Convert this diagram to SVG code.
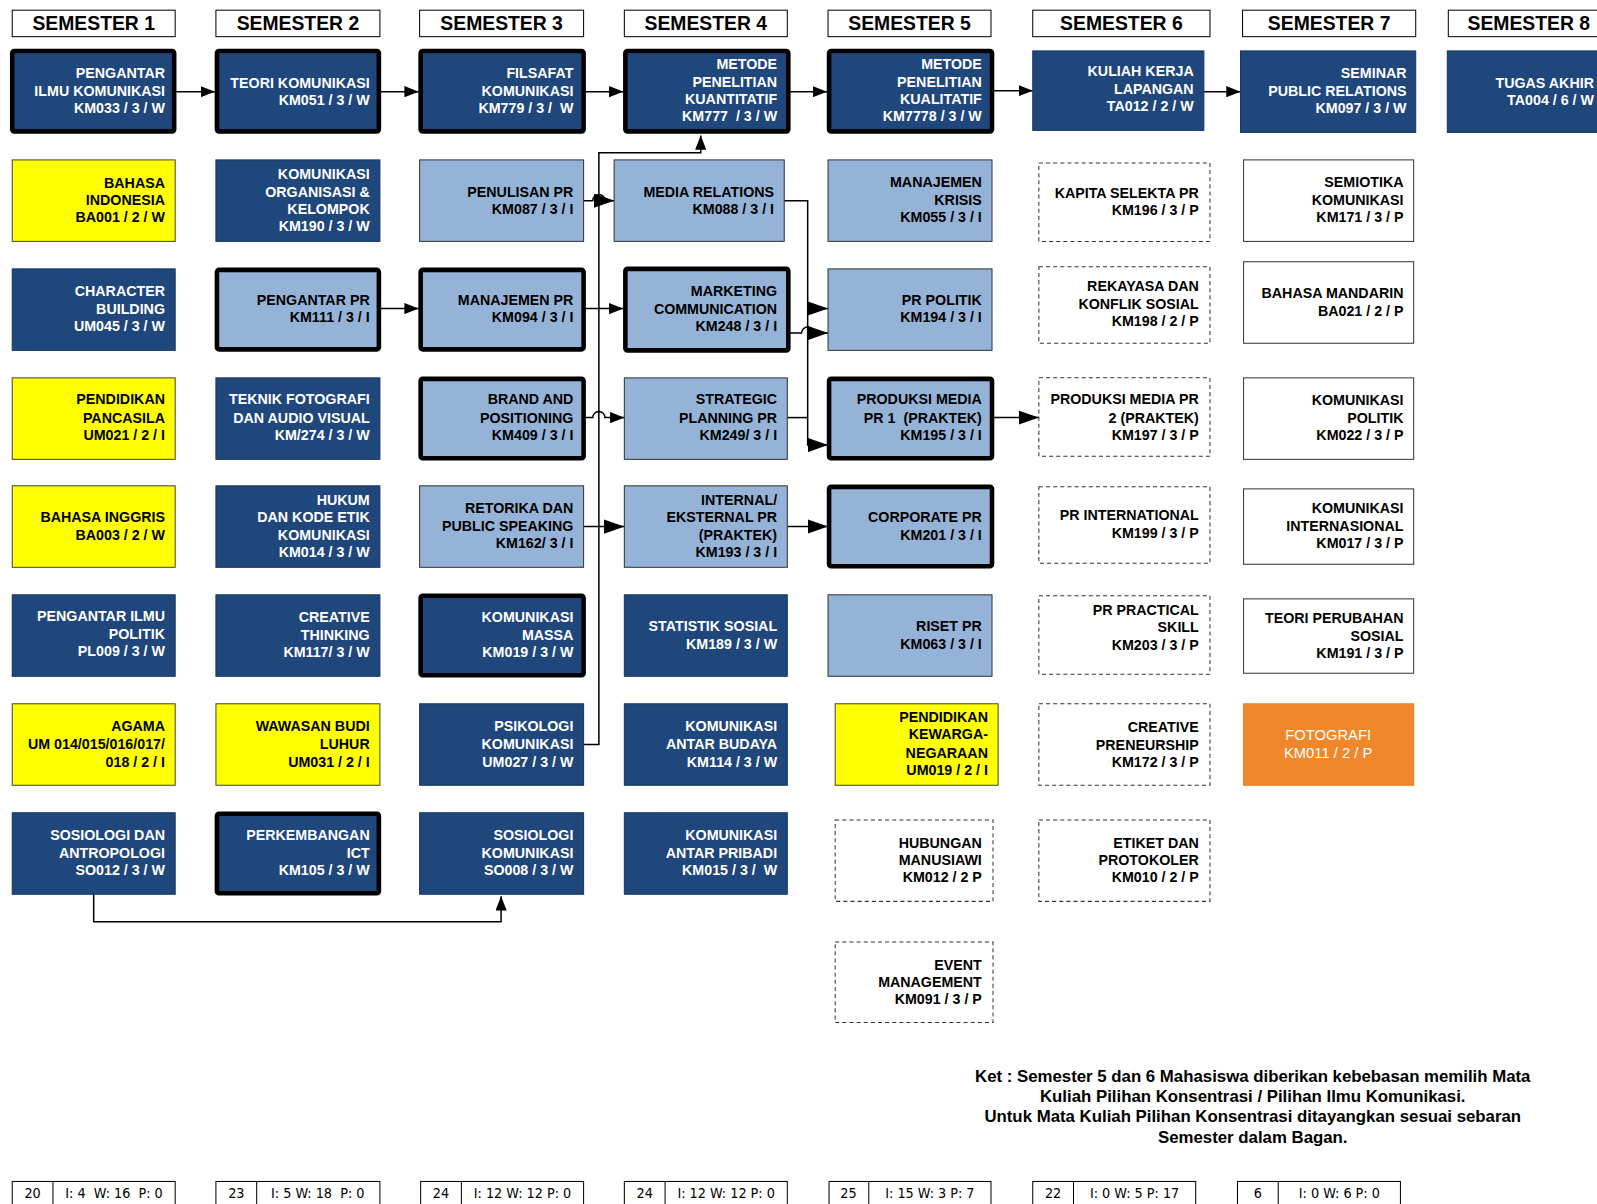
<svg xmlns="http://www.w3.org/2000/svg" width="1597" height="1204" viewBox="0 0 1597 1204">
<style>
text{font-family:"Liberation Sans",Arial,sans-serif;font-weight:bold;font-size:14px;text-anchor:end;fill:#000}
.hdr rect{fill:#fff;stroke:#000;stroke-width:1}
.hdr text{font-size:19px;text-anchor:middle}
.dk rect{fill:#1F477C;stroke:#16365E;stroke-width:1}
.dk text{fill:#fff}
.lt rect{fill:#95B3D7;stroke:#333;stroke-width:1}
.yl rect{fill:#FFFF00;stroke:#444;stroke-width:1}
.wh rect{fill:#fff;stroke:#333;stroke-width:1}
.ds rect{fill:#fff;stroke:#333;stroke-width:1;stroke-dasharray:4 3}
.or rect{fill:#F0882B;stroke:#E98025;stroke-width:1}
.or text{font-weight:normal;font-size:14.5px;text-anchor:middle;fill:#fff}
.thk rect{stroke:#000;stroke-width:4.5}
.cn path{fill:none;stroke:#000;stroke-width:1.5}
.sum rect,.sum line{fill:#fff;stroke:#000;stroke-width:1}
.sum text{font-family:"Liberation Sans Narrow","DejaVu Sans Condensed","Liberation Sans",sans-serif;font-weight:normal;font-size:14px;text-anchor:middle}
.note text{font-size:16.5px;text-anchor:middle}
</style>
<defs>
<marker id="a" markerUnits="userSpaceOnUse" markerWidth="14" markerHeight="11" refX="14" refY="5.5" orient="auto"><path d="M0,0 L14,5.5 L0,11 z" fill="#000"/></marker>
<marker id="b" markerUnits="userSpaceOnUse" markerWidth="20" markerHeight="14" refX="20" refY="7" orient="auto"><path d="M0,0 L20,7 L0,14 z" fill="#000"/></marker>
</defs>
<g transform="scale(1.0185)">
<g id="headers" class="hdr">
<g id="h1"><rect x="12" y="10" width="160" height="26"/><text x="92" y="29.5">SEMESTER 1</text></g>
<g id="h2"><rect x="212" y="10" width="161" height="26"/><text x="292.5" y="29.5">SEMESTER 2</text></g>
<g id="h3"><rect x="412" y="10" width="161" height="26"/><text x="492.5" y="29.5">SEMESTER 3</text></g>
<g id="h4"><rect x="613" y="10" width="160" height="26"/><text x="693" y="29.5">SEMESTER 4</text></g>
<g id="h5"><rect x="813" y="10" width="160" height="26"/><text x="893" y="29.5">SEMESTER 5</text></g>
<g id="h6"><rect x="1014" y="10" width="174" height="26"/><text x="1101" y="29.5">SEMESTER 6</text></g>
<g id="h7"><rect x="1220" y="10" width="170" height="26"/><text x="1305" y="29.5">SEMESTER 7</text></g>
<g id="h8"><rect x="1422" y="10" width="180" height="26"/><text x="1501" y="29.5">SEMESTER 8</text></g>
</g>

<g id="connectors" class="cn">
<path d="M173,90 H211" marker-end="url(#a)"/>
<path d="M374,90 H411" marker-end="url(#a)"/>
<path d="M575,90 H612" marker-end="url(#a)"/>
<path d="M776,90 H812" marker-end="url(#a)"/>
<path d="M976,89 H1014" marker-end="url(#a)"/>
<path d="M1182,90 H1218" marker-end="url(#a)"/>
<path d="M573,731 H588 V150 H688 V133" marker-end="url(#a)"/>
<path d="M573,197 H582 A6,6 0 0 1 594,197 H603" marker-end="url(#b)"/>
<path d="M374,303 H411" marker-end="url(#a)"/>
<path d="M575,303 H612" marker-end="url(#a)"/>
<path d="M575,410 H582 A6,6 0 0 1 594,410 H613" marker-end="url(#a)"/>
<path d="M573,517 H613" marker-end="url(#b)"/>
<path d="M773,517 H813" marker-end="url(#b)"/>
<path d="M770,197 H793 V437 H813" marker-end="url(#b)"/>
<path d="M793,303 H813" marker-end="url(#b)"/>
<path d="M775,327 H787 A6,6 0 0 1 799,327 H813" marker-end="url(#b)"/>
<path d="M773,410 H793"/>
<path d="M976,410 H1020" marker-end="url(#b)"/>
<path d="M92,878 V905 H492 V880" marker-end="url(#a)"/>
</g>

<!-- Semester 1 -->
<g id="km033" class="dk thk"><rect x="12" y="50" width="159" height="79" rx="2"/><text><tspan x="162" y="77">PENGANTAR</tspan><tspan x="162" y="94">ILMU KOMUNIKASI</tspan><tspan x="162" y="111">KM033 / 3 / W</tspan></text></g>
<g id="ba001" class="yl"><rect x="12" y="157" width="160" height="80"/><text><tspan x="162" y="185">BAHASA</tspan><tspan x="162" y="201">INDONESIA</tspan><tspan x="162" y="218">BA001 / 2 / W</tspan></text></g>
<g id="um045" class="dk"><rect x="12" y="264" width="160" height="80"/><text><tspan x="162" y="291">CHARACTER</tspan><tspan x="162" y="308">BUILDING</tspan><tspan x="162" y="325">UM045 / 3 / W</tspan></text></g>
<g id="um021" class="yl"><rect x="12" y="371" width="160" height="80"/><text><tspan x="162" y="397">PENDIDIKAN</tspan><tspan x="162" y="415">PANCASILA</tspan><tspan x="162" y="432">UM021 / 2 / I</tspan></text></g>
<g id="ba003" class="yl"><rect x="12" y="477" width="160" height="80"/><text><tspan x="162" y="513">BAHASA INGGRIS</tspan><tspan x="162" y="530">BA003 / 2 / W</tspan></text></g>
<g id="pl009" class="dk"><rect x="12" y="584" width="160" height="80"/><text><tspan x="162" y="610">PENGANTAR ILMU</tspan><tspan x="162" y="627">POLITIK</tspan><tspan x="162" y="644">PL009 / 3 / W</tspan></text></g>
<g id="um014" class="yl"><rect x="12" y="691" width="160" height="80"/><text><tspan x="162" y="718">AGAMA</tspan><tspan x="162" y="735">UM 014/015/016/017/</tspan><tspan x="162" y="753">018 / 2 / I</tspan></text></g>
<g id="so012" class="dk"><rect x="12" y="798" width="160" height="80"/><text><tspan x="162" y="825">SOSIOLOGI DAN</tspan><tspan x="162" y="842">ANTROPOLOGI</tspan><tspan x="162" y="859">SO012 / 3 / W</tspan></text></g>

<!-- Semester 2 -->
<g id="km051" class="dk thk"><rect x="213" y="50" width="159" height="79" rx="2"/><text><tspan x="363" y="86">TEORI KOMUNIKASI</tspan><tspan x="363" y="103">KM051 / 3 / W</tspan></text></g>
<g id="km190" class="dk"><rect x="212" y="157" width="161" height="80"/><text><tspan x="363" y="176">KOMUNIKASI</tspan><tspan x="363" y="193">ORGANISASI &amp;</tspan><tspan x="363" y="210">KELOMPOK</tspan><tspan x="363" y="227">KM190 / 3 / W</tspan></text></g>
<g id="km111" class="lt thk"><rect x="213" y="265" width="159" height="78" rx="2"/><text><tspan x="363" y="299">PENGANTAR PR</tspan><tspan x="363" y="316">KM111 / 3 / I</tspan></text></g>
<g id="km274" class="dk"><rect x="212" y="371" width="161" height="80"/><text><tspan x="363" y="397">TEKNIK FOTOGRAFI</tspan><tspan x="363" y="415">DAN AUDIO VISUAL</tspan><tspan x="363" y="432">KM/274 / 3 / W</tspan></text></g>
<g id="km014" class="dk"><rect x="212" y="477" width="161" height="80"/><text><tspan x="363" y="496">HUKUM</tspan><tspan x="363" y="513">DAN KODE ETIK</tspan><tspan x="363" y="530">KOMUNIKASI</tspan><tspan x="363" y="547">KM014 / 3 / W</tspan></text></g>
<g id="km117" class="dk"><rect x="212" y="584" width="161" height="80"/><text><tspan x="363" y="611">CREATIVE</tspan><tspan x="363" y="628">THINKING</tspan><tspan x="363" y="645">KM117/ 3 / W</tspan></text></g>
<g id="um031" class="yl"><rect x="212" y="691" width="161" height="80"/><text><tspan x="363" y="718">WAWASAN BUDI</tspan><tspan x="363" y="735">LUHUR</tspan><tspan x="363" y="753">UM031 / 2 / I</tspan></text></g>
<g id="km105" class="dk thk"><rect x="213" y="799" width="159" height="78" rx="2"/><text><tspan x="363" y="825">PERKEMBANGAN</tspan><tspan x="363" y="842">ICT</tspan><tspan x="363" y="859">KM105 / 3 / W</tspan></text></g>

<!-- Semester 3 -->
<g id="km779" class="dk thk"><rect x="413" y="50" width="160" height="79" rx="2"/><text><tspan x="563" y="77">FILSAFAT</tspan><tspan x="563" y="94">KOMUNIKASI</tspan><tspan x="563" y="111">KM779 / 3 /&#160; W</tspan></text></g>
<g id="km087" class="lt"><rect x="412" y="157" width="161" height="80"/><text><tspan x="563" y="193">PENULISAN PR</tspan><tspan x="563" y="210">KM087 / 3 / I</tspan></text></g>
<g id="km094" class="lt thk"><rect x="413" y="265" width="160" height="78" rx="2"/><text><tspan x="563" y="299">MANAJEMEN PR</tspan><tspan x="563" y="316">KM094 / 3 / I</tspan></text></g>
<g id="km409" class="lt thk"><rect x="413" y="372" width="160" height="78" rx="2"/><text><tspan x="563" y="397">BRAND AND</tspan><tspan x="563" y="415">POSITIONING</tspan><tspan x="563" y="432">KM409 / 3 / I</tspan></text></g>
<g id="km162" class="lt"><rect x="412" y="477" width="161" height="80"/><text><tspan x="563" y="504">RETORIKA DAN</tspan><tspan x="563" y="521">PUBLIC SPEAKING</tspan><tspan x="563" y="538">KM162/ 3 / I</tspan></text></g>
<g id="km019" class="dk thk"><rect x="413" y="585" width="160" height="78" rx="2"/><text><tspan x="563" y="611">KOMUNIKASI</tspan><tspan x="563" y="628">MASSA</tspan><tspan x="563" y="645">KM019 / 3 / W</tspan></text></g>
<g id="um027" class="dk"><rect x="412" y="691" width="161" height="80"/><text><tspan x="563" y="718">PSIKOLOGI</tspan><tspan x="563" y="735">KOMUNIKASI</tspan><tspan x="563" y="753">UM027 / 3 / W</tspan></text></g>
<g id="so008" class="dk"><rect x="412" y="798" width="161" height="80"/><text><tspan x="563" y="825">SOSIOLOGI</tspan><tspan x="563" y="842">KOMUNIKASI</tspan><tspan x="563" y="859">SO008 / 3 / W</tspan></text></g>

<!-- Semester 4 -->
<g id="km777" class="dk thk"><rect x="614" y="50" width="160" height="79" rx="2"/><text><tspan x="763" y="68">METODE</tspan><tspan x="763" y="85">PENELITIAN</tspan><tspan x="763" y="102">KUANTITATIF</tspan><tspan x="763" y="119">KM777&#160; / 3 / W</tspan></text></g>
<g id="km088" class="lt"><rect x="603" y="157" width="167" height="80"/><text><tspan x="760" y="193">MEDIA RELATIONS</tspan><tspan x="760" y="210">KM088 / 3 / I</tspan></text></g>
<g id="km248" class="lt thk"><rect x="614" y="264" width="160" height="80" rx="2"/><text><tspan x="763" y="291">MARKETING</tspan><tspan x="763" y="308">COMMUNICATION</tspan><tspan x="763" y="325">KM248 / 3 / I</tspan></text></g>
<g id="km249" class="lt"><rect x="613" y="371" width="160" height="80"/><text><tspan x="763" y="397">STRATEGIC</tspan><tspan x="763" y="415">PLANNING PR</tspan><tspan x="763" y="432">KM249/ 3 / I</tspan></text></g>
<g id="km193" class="lt"><rect x="613" y="477" width="160" height="80"/><text><tspan x="763" y="496">INTERNAL/</tspan><tspan x="763" y="513">EKSTERNAL PR</tspan><tspan x="763" y="530">(PRAKTEK)</tspan><tspan x="763" y="547">KM193 / 3 / I</tspan></text></g>
<g id="km189" class="dk"><rect x="613" y="584" width="160" height="80"/><text><tspan x="763" y="620">STATISTIK SOSIAL</tspan><tspan x="763" y="637">KM189 / 3 / W</tspan></text></g>
<g id="km114" class="dk"><rect x="613" y="691" width="160" height="80"/><text><tspan x="763" y="718">KOMUNIKASI</tspan><tspan x="763" y="735">ANTAR BUDAYA</tspan><tspan x="763" y="753">KM114 / 3 / W</tspan></text></g>
<g id="km015" class="dk"><rect x="613" y="798" width="160" height="80"/><text><tspan x="763" y="825">KOMUNIKASI</tspan><tspan x="763" y="842">ANTAR PRIBADI</tspan><tspan x="763" y="859">KM015 / 3 /&#160; W</tspan></text></g>

<!-- Semester 5 -->
<g id="km7778" class="dk thk"><rect x="814" y="50" width="160" height="79" rx="2"/><text><tspan x="964" y="68">METODE</tspan><tspan x="964" y="85">PENELITIAN</tspan><tspan x="964" y="102">KUALITATIF</tspan><tspan x="964" y="119">KM7778 / 3 / W</tspan></text></g>
<g id="km055" class="lt"><rect x="813" y="157" width="161" height="80"/><text><tspan x="964" y="184">MANAJEMEN</tspan><tspan x="964" y="201">KRISIS</tspan><tspan x="964" y="218">KM055 / 3 / I</tspan></text></g>
<g id="km194" class="lt"><rect x="813" y="264" width="161" height="80"/><text><tspan x="964" y="299">PR POLITIK</tspan><tspan x="964" y="316">KM194 / 3 / I</tspan></text></g>
<g id="km195" class="lt thk"><rect x="814" y="372" width="160" height="78" rx="2"/><text><tspan x="964" y="397">PRODUKSI MEDIA</tspan><tspan x="964" y="415">PR 1&#160; (PRAKTEK)</tspan><tspan x="964" y="432">KM195 / 3 / I</tspan></text></g>
<g id="km201" class="lt thk"><rect x="814" y="478" width="160" height="78" rx="2"/><text><tspan x="964" y="513">CORPORATE PR</tspan><tspan x="964" y="530">KM201 / 3 / I</tspan></text></g>
<g id="km063" class="lt"><rect x="813" y="584" width="161" height="80"/><text><tspan x="964" y="620">RISET PR</tspan><tspan x="964" y="637">KM063 / 3 / I</tspan></text></g>
<g id="um019" class="yl"><rect x="820" y="691" width="160" height="80"/><text><tspan x="970" y="709">PENDIDIKAN</tspan><tspan x="970" y="726">KEWARGA-</tspan><tspan x="970" y="744">NEGARAAN</tspan><tspan x="970" y="761">UM019 / 2 / I</tspan></text></g>
<g id="km012" class="ds"><rect x="820" y="805" width="155" height="80"/><text><tspan x="964" y="833">HUBUNGAN</tspan><tspan x="964" y="849">MANUSIAWI</tspan><tspan x="964" y="866">KM012 / 2 P</tspan></text></g>
<g id="km091" class="ds"><rect x="820" y="925" width="155" height="79"/><text><tspan x="964" y="952">EVENT</tspan><tspan x="964" y="969">MANAGEMENT</tspan><tspan x="964" y="986">KM091 / 3 / P</tspan></text></g>

<!-- Semester 6 -->
<g id="ta012" class="dk"><rect x="1014" y="50" width="168" height="78"/><text><tspan x="1172" y="75">KULIAH KERJA</tspan><tspan x="1172" y="92">LAPANGAN</tspan><tspan x="1172" y="109">TA012 / 2 / W</tspan></text></g>
<g id="km196" class="ds"><rect x="1020" y="160" width="168" height="77"/><text><tspan x="1177" y="194">KAPITA SELEKTA PR</tspan><tspan x="1177" y="211">KM196 / 3 / P</tspan></text></g>
<g id="km198" class="ds"><rect x="1020" y="262" width="168" height="75"/><text><tspan x="1177" y="286">REKAYASA DAN</tspan><tspan x="1177" y="303">KONFLIK SOSIAL</tspan><tspan x="1177" y="320">KM198 / 2 / P</tspan></text></g>
<g id="km197" class="ds"><rect x="1020" y="371" width="168" height="77"/><text><tspan x="1177" y="397">PRODUKSI MEDIA PR</tspan><tspan x="1177" y="415">2 (PRAKTEK)</tspan><tspan x="1177" y="432">KM197 / 3 / P</tspan></text></g>
<g id="km199" class="ds"><rect x="1020" y="478" width="168" height="75"/><text><tspan x="1177" y="511">PR INTERNATIONAL</tspan><tspan x="1177" y="528">KM199 / 3 / P</tspan></text></g>
<g id="km203" class="ds"><rect x="1020" y="585" width="168" height="77"/><text><tspan x="1177" y="604">PR PRACTICAL</tspan><tspan x="1177" y="621">SKILL</tspan><tspan x="1177" y="638">KM203 / 3 / P</tspan></text></g>
<g id="km172" class="ds"><rect x="1020" y="691" width="168" height="80"/><text><tspan x="1177" y="719">CREATIVE</tspan><tspan x="1177" y="736">PRENEURSHIP</tspan><tspan x="1177" y="753">KM172 / 3 / P</tspan></text></g>
<g id="km010" class="ds"><rect x="1020" y="805" width="168" height="80"/><text><tspan x="1177" y="833">ETIKET DAN</tspan><tspan x="1177" y="849">PROTOKOLER</tspan><tspan x="1177" y="866">KM010 / 2 / P</tspan></text></g>

<!-- Semester 7 -->
<g id="km097" class="dk"><rect x="1218" y="50" width="172" height="80"/><text><tspan x="1381" y="77">SEMINAR</tspan><tspan x="1381" y="94">PUBLIC RELATIONS</tspan><tspan x="1381" y="111">KM097 / 3 / W</tspan></text></g>
<g id="km171" class="wh"><rect x="1221" y="157" width="167" height="80"/><text><tspan x="1378" y="184">SEMIOTIKA</tspan><tspan x="1378" y="201">KOMUNIKASI</tspan><tspan x="1378" y="218">KM171 / 3 / P</tspan></text></g>
<g id="ba021" class="wh"><rect x="1221" y="257" width="167" height="80"/><text><tspan x="1378" y="293">BAHASA MANDARIN</tspan><tspan x="1378" y="310">BA021 / 2 / P</tspan></text></g>
<g id="km022" class="wh"><rect x="1221" y="371" width="167" height="80"/><text><tspan x="1378" y="398">KOMUNIKASI</tspan><tspan x="1378" y="415">POLITIK</tspan><tspan x="1378" y="432">KM022 / 3 / P</tspan></text></g>
<g id="km017" class="wh"><rect x="1221" y="480" width="167" height="74"/><text><tspan x="1378" y="504">KOMUNIKASI</tspan><tspan x="1378" y="521">INTERNASIONAL</tspan><tspan x="1378" y="538">KM017 / 3 / P</tspan></text></g>
<g id="km191" class="wh"><rect x="1221" y="588" width="167" height="73"/><text><tspan x="1378" y="612">TEORI PERUBAHAN</tspan><tspan x="1378" y="629">SOSIAL</tspan><tspan x="1378" y="646">KM191 / 3 / P</tspan></text></g>
<g id="km011" class="or"><rect x="1221" y="691" width="167" height="80"/><text><tspan x="1304" y="727">FOTOGRAFI</tspan><tspan x="1304" y="744">KM011 / 2 / P</tspan></text></g>

<!-- Semester 8 -->
<g id="ta004" class="dk"><rect x="1421" y="50" width="200" height="80"/><text><tspan x="1565" y="86">TUGAS AKHIR</tspan><tspan x="1565" y="103">TA004 / 6 / W</tspan></text></g>

<g id="note" class="note"><text><tspan x="1230" y="1062">Ket : Semester 5 dan 6 Mahasiswa diberikan kebebasan memilih Mata</tspan><tspan x="1230" y="1082">Kuliah Pilihan Konsentrasi / Pilihan Ilmu Komunikasi.</tspan><tspan x="1230" y="1102">Untuk Mata Kuliah Pilihan Konsentrasi ditayangkan sesuai sebaran</tspan><tspan x="1230" y="1122">Semester dalam Bagan.</tspan></text></g>

<g id="summary" class="sum">
<g id="sum1"><rect x="12" y="1160" width="160" height="40"/><line x1="52" y1="1160" x2="52" y2="1200"/><text x="32" y="1176">20</text><text x="112" y="1176">I: 4&#160; W: 16&#160; P: 0</text></g>
<g id="sum2"><rect x="212" y="1160" width="161" height="40"/><line x1="252" y1="1160" x2="252" y2="1200"/><text x="232" y="1176">23</text><text x="312" y="1176">I: 5 W: 18&#160; P: 0</text></g>
<g id="sum3"><rect x="413" y="1160" width="160" height="40"/><line x1="453" y1="1160" x2="453" y2="1200"/><text x="433" y="1176">24</text><text x="513" y="1176">I: 12 W: 12 P: 0</text></g>
<g id="sum4"><rect x="613" y="1160" width="160" height="40"/><line x1="653" y1="1160" x2="653" y2="1200"/><text x="633" y="1176">24</text><text x="713" y="1176">I: 12 W: 12 P: 0</text></g>
<g id="sum5"><rect x="814" y="1160" width="159" height="40"/><line x1="853" y1="1160" x2="853" y2="1200"/><text x="833" y="1176">25</text><text x="913" y="1176">I: 15 W: 3 P: 7</text></g>
<g id="sum6"><rect x="1014" y="1160" width="160" height="40"/><line x1="1054" y1="1160" x2="1054" y2="1200"/><text x="1034" y="1176">22</text><text x="1114" y="1176">I: 0 W: 5 P: 17</text></g>
<g id="sum7"><rect x="1215" y="1160" width="160" height="40"/><line x1="1255" y1="1160" x2="1255" y2="1200"/><text x="1235" y="1176">6</text><text x="1315" y="1176">I: 0 W: 6 P: 0</text></g>
</g>
</g>
</svg>
